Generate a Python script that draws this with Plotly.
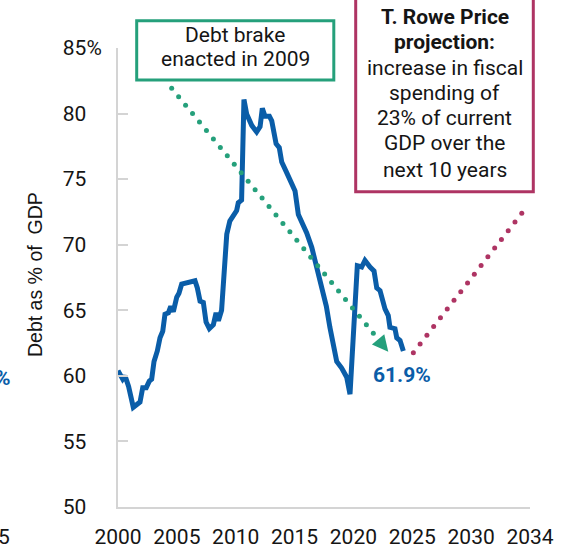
import numpy as np
import plotly.graph_objects as go

# ---------------- data ----------------
years = [2000.00, 2000.40, 2000.60, 2000.90, 2001.30, 2001.87, 2002.10, 2002.40, 2002.66, 2002.86,
         2003.06, 2003.34, 2003.57, 2003.80, 2003.99, 2004.28, 2004.48, 2004.70, 2004.99, 2005.18,
         2005.41, 2005.84, 2006.54, 2006.74, 2006.97, 2007.25, 2007.48, 2007.76, 2008.10, 2008.33,
         2008.53, 2008.80, 2009.09, 2009.24, 2009.50, 2009.80, 2010.08, 2010.22, 2010.50, 2010.70,
         2010.93, 2011.36, 2011.78, 2012.07, 2012.26, 2012.49, 2012.86, 2013.06, 2013.43, 2013.70,
         2013.91, 2014.33, 2014.84, 2015.04, 2015.32, 2015.69, 2016.03, 2016.46, 2016.74, 2017.05,
         2017.40, 2017.70, 2018.00, 2018.58, 2019.00, 2019.43, 2019.71, 2020.33, 2020.70, 2020.98,
         2021.41, 2021.75, 2021.98, 2022.26, 2022.68, 2022.96, 2023.10, 2023.53, 2023.68, 2023.96,
         2024.24]
debt = [60.4, 59.75, 60.0, 59.2, 57.6, 58.0, 59.1, 59.1, 59.6, 59.75,
        61.1, 61.9, 62.9, 63.4, 64.7, 64.8, 65.3, 64.9, 66.0, 66.3,
        67.0, 67.1, 67.25, 66.7, 65.7, 65.6, 64.1, 63.6, 63.9, 64.8,
        64.2, 65.0, 68.8, 70.8, 71.8, 72.3, 72.6, 73.2, 73.4, 81.07,
        79.97, 79.1, 78.6, 79.0, 80.4, 79.8, 79.8, 79.45, 77.7, 77.4,
        76.3, 75.5, 74.4, 74.1, 72.3, 71.6, 70.9, 69.8, 68.8, 67.6,
        66.3, 65.3, 63.7, 61.1, 60.6, 59.9, 58.6, 68.4, 68.3, 68.8,
        68.3, 68.0, 66.7, 66.5, 65.1, 64.6, 63.7, 63.6, 62.9, 62.7,
        61.9]

x_tick_vals = [2000, 2005, 2010, 2015, 2020, 2025, 2030, 2035]
x_tick_text = ["2000", "2005", "2010", "2015", "2020", "2025", "2030", "2034"]
y_tick_vals = [50, 55, 60, 65, 70, 75, 80, 85]
y_tick_suffix = ["", "", "", "", "", "", "", "%"]

latest_label = "61.9%"
y_title = "Debt as % of&nbsp; GDP"
brake_lines = ["Debt brake", "enacted in 2009"]
projection_lines = ["<b>T. Rowe Price</b>", "<b>projection:</b>", "increase in fiscal",
                    "spending of", "23% of current", "GDP over the", "next 10 years"]

# arrow end points (data coords)
brake_arrow_start = (2004.56, 81.93)
brake_arrow_end = (2021.69, 63.25)
brake_arrow_tip = (2022.96, 61.84)
proj_arrow_start = (2025.09, 61.77)
proj_arrow_end = (2034.30, 72.40)
proj_arrow_tip = (2035.28, 73.54)

# ---------------- style ----------------
BLUE = "#0A5DA8"
GREEN = "#25A07B"
MAGENTA = "#AE3463"
AXIS = "#D4D4D4"
TXT = "#151515"
FONT = "Roboto"

W, H = 571, 549
L, R, T, B = 118, 41, 48, 42
PW, PH = W - L - R, H - T - B


def pxx(px):
    return (px - L) / PW


def pxy(py):
    return (H - B - py) / PH


fig = go.Figure()

fig.add_trace(go.Scatter(x=years, y=debt, mode="lines",
                         line=dict(color=BLUE, width=5), hoverinfo="skip", showlegend=False))

bx = np.linspace(brake_arrow_start[0], brake_arrow_end[0], 30)
by = np.linspace(brake_arrow_start[1], brake_arrow_end[1], 30)
fig.add_trace(go.Scatter(x=bx, y=by, mode="markers", marker=dict(color=GREEN, size=5, line=dict(width=0)),
                         hoverinfo="skip", showlegend=False, cliponaxis=False))
fig.add_trace(go.Scatter(x=[brake_arrow_tip[0]], y=[brake_arrow_tip[1]], mode="markers",
                         marker=dict(symbol="arrow-up", angle=140.5, size=16, color=GREEN, line=dict(width=0)),
                         hoverinfo="skip", showlegend=False, cliponaxis=False))

mx = np.linspace(proj_arrow_start[0], proj_arrow_end[0], 17)
my = np.linspace(proj_arrow_start[1], proj_arrow_end[1], 17)
fig.add_trace(go.Scatter(x=mx, y=my, mode="markers", marker=dict(color=MAGENTA, size=5, line=dict(width=0)),
                         hoverinfo="skip", showlegend=False, cliponaxis=False))
fig.add_trace(go.Scatter(x=[proj_arrow_tip[0]], y=[proj_arrow_tip[1]], mode="markers",
                         marker=dict(symbol="arrow-up", angle=37.9, size=16, color=MAGENTA, line=dict(width=0)),
                         hoverinfo="skip", showlegend=False, cliponaxis=False))

# boxes
fig.add_shape(type="rect", xref="paper", yref="paper",
              x0=pxx(136.7), x1=pxx(333.8), y0=pxy(80), y1=pxy(20.8),
              line=dict(color=GREEN, width=3), fillcolor="white", layer="above")
fig.add_shape(type="rect", xref="paper", yref="paper",
              x0=pxx(355.7), x1=pxx(533.3), y0=pxy(191.7), y1=pxy(-30),
              line=dict(color=MAGENTA, width=3), fillcolor="white", layer="above")

ann = []
for txt, cy in zip(brake_lines, [35.0, 59.3]):
    ann.append(dict(text=txt, xref="paper", yref="paper", x=pxx(235.3), y=pxy(cy),
                    xanchor="center", yanchor="middle", showarrow=False,
                    font=dict(family=FONT, size=21, color=TXT)))
for txt, cy in zip(projection_lines, [17.3, 41.7, 68.3, 93.3, 118.3, 143.3, 170.0]):
    ann.append(dict(text=txt, xref="paper", yref="paper", x=pxx(444.5), y=pxy(cy),
                    xanchor="center", yanchor="middle", showarrow=False,
                    font=dict(family=FONT, size=21, color=TXT)))

ann.append(dict(text=f"<b>{latest_label}</b>", xref="x", yref="y", x=2024.13, y=60.07,
                xanchor="center", yanchor="middle", showarrow=False,
                font=dict(family=FONT, size=21, color=BLUE)))
ann.append(dict(text=y_title, xref="paper", yref="paper", x=pxx(35), y=pxy(275), textangle=-90,
                xanchor="center", yanchor="middle", showarrow=False,
                font=dict(family="Liberation Sans", size=19.5, color=TXT)))
# clipped fragments from the neighbouring panel
ann.append(dict(text="<b>%</b>", xref="paper", yref="paper", x=pxx(13), y=pxy(378),
                xanchor="right", yanchor="middle", showarrow=False,
                font=dict(family=FONT, size=21, color=BLUE)))
ann.append(dict(text="5", xref="paper", yref="paper", x=pxx(11.7), y=pxy(537),
                xanchor="right", yanchor="middle", showarrow=False,
                font=dict(family=FONT, size=21, color=TXT)))

y_tick_text = [f"{v}<span style='color:rgba(0,0,0,0)'>%</span>" if s == "" else f"{v}{s}"
               for v, s in zip(y_tick_vals, y_tick_suffix)]

fig.update_layout(
    width=W, height=H, autosize=False,
    margin=dict(l=L, r=R, t=T, b=B, pad=0, autoexpand=False),
    paper_bgcolor="white", plot_bgcolor="white",
    showlegend=False,
    annotations=ann,
    xaxis=dict(range=[2000, 2035], tickmode="array", tickvals=x_tick_vals, ticktext=x_tick_text,
               showgrid=False, zeroline=False, showline=True, linecolor=AXIS, linewidth=2,
               ticks="", ticklabelstandoff=10, automargin=False,
               tickfont=dict(family=FONT, size=21, color=TXT), fixedrange=True),
    yaxis=dict(range=[50, 85], tickmode="array", tickvals=y_tick_vals, ticktext=y_tick_text,
               showgrid=False, zeroline=False, showline=True, linecolor=AXIS, linewidth=2,
               ticks="inside", ticklen=10, tickwidth=2, tickcolor=AXIS, ticklabelstandoff=10,
               automargin=False,
               tickfont=dict(family=FONT, size=21, color=TXT), fixedrange=True),
)

fig.write_html("out.html", config={"displayModeBar": False},
               post_script="document.body.style.margin='0';")
